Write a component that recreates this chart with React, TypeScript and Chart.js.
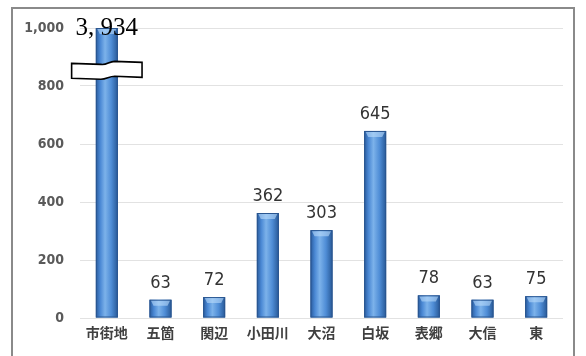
import React, { useEffect, useRef } from "react";
import { Chart, registerables } from "chart.js";

Chart.register(...registerables);

const categories = ["市街地", "五箇", "関辺", "小田川", "大沼", "白坂", "表郷", "大信", "東"];
const values = [3934, 63, 72, 362, 303, 645, 78, 63, 75];
const yTicks = [0, 200, 400, 600, 800, 1000];
const yMax = 1000;
const breakLow = 830;
const breakHigh = 878;

const framePlugin = {
  id: "frame",
  beforeDraw(chart: any) {
    const ctx = chart.ctx;
    ctx.save();
    ctx.fillStyle = "#ffffff";
    ctx.fillRect(0, 0, chart.width, chart.height);
    ctx.strokeStyle = "#8a8a8a";
    ctx.lineWidth = 2;
    ctx.strokeRect(12, 8, chart.width - 24, chart.height + 20);
    ctx.restore();
  },
};

const barDecorPlugin = {
  id: "barDecor",
  afterDatasetsDraw(chart: any) {
    const ctx = chart.ctx;
    const area = chart.chartArea;
    const yScale = chart.scales.y;
    const meta = chart.getDatasetMeta(0);
    ctx.save();
    meta.data.forEach((bar: any, i: number) => {
      const v = values[i];
      const top = Math.max(bar.y, area.top);
      const w = bar.width;
      const left = bar.x - w / 2;
      const bottom = bar.base;

      // cylinder-like shading
      const g = ctx.createLinearGradient(left, 0, left + w, 0);
      g.addColorStop(0, "#285a9c");
      g.addColorStop(0.2, "#4a88d4");
      g.addColorStop(0.42, "#7cb2ea");
      g.addColorStop(0.7, "#4f8dd6");
      g.addColorStop(1, "#275896");
      ctx.fillStyle = g;
      ctx.fillRect(left, top, w, bottom - top);
      ctx.strokeStyle = "#2a5690";
      ctx.lineWidth = 1;
      ctx.strokeRect(left + 0.5, top + 0.5, w - 1, bottom - top - 1);

      // top highlight bevel
      const h = Math.min(5, Math.abs(bottom - top) / 3);
      ctx.fillStyle = "rgba(185,218,250,0.6)";
      ctx.beginPath();
      ctx.moveTo(left + 1.5, top + 1);
      ctx.lineTo(left + w - 1.5, top + 1);
      ctx.lineTo(left + w - 4, top + 1 + h);
      ctx.lineTo(left + 4, top + 1 + h);
      ctx.closePath();
      ctx.fill();

      if (v > yMax) {
        // axis break symbol
        const yT = yScale.getPixelForValue(breakHigh);
        const yB = yScale.getPixelForValue(breakLow);
        const x0 = bar.x - w * 1.6;
        const x1 = bar.x + w * 1.6;
        const xm = bar.x;
        ctx.beginPath();
        ctx.moveTo(x0, yT);
        ctx.lineTo(xm - 6, yT + 1);
        ctx.bezierCurveTo(xm, yT + 2, xm + 2, yT - 2, xm + 8, yT - 2);
        ctx.lineTo(x1, yT - 1);
        ctx.lineTo(x1, yB);
        ctx.lineTo(xm + 8, yB - 1);
        ctx.bezierCurveTo(xm + 2, yB - 1, xm, yB + 2, xm - 6, yB + 2);
        ctx.lineTo(x0, yB + 1);
        ctx.closePath();
        ctx.fillStyle = "#ffffff";
        ctx.fill();
        ctx.strokeStyle = "#000000";
        ctx.lineWidth = 1.6;
        ctx.stroke();

        ctx.fillStyle = "#000000";
        ctx.font = "25px 'Liberation Serif', serif";
        ctx.textAlign = "center";
        ctx.textBaseline = "middle";
        ctx.fillText(v.toLocaleString("en-US").replace(",", ", "), bar.x, area.top);
      } else {
        ctx.fillStyle = "#333333";
        ctx.font = "18px 'Liberation Sans Narrow', 'DejaVu Sans Condensed', sans-serif";
        ctx.textAlign = "center";
        ctx.textBaseline = "alphabetic";
        ctx.fillText(String(v), bar.x, bar.y - 12);
      }
    });
    ctx.restore();
  },
};

export default function App() {
  const ref = useRef<HTMLCanvasElement | null>(null);

  useEffect(() => {
    document.body.style.margin = "0";
    const canvas = ref.current;
    if (!canvas) return;
    const chart = new Chart(canvas, {
      type: "bar",
      data: {
        labels: categories,
        datasets: [
          {
            data: values,
            backgroundColor: "#4a88d4",
            borderColor: "#2a5690",
            borderWidth: 1,
            barPercentage: 0.41,
            categoryPercentage: 1,
          },
        ],
      },
      options: {
        animation: false,
        responsive: false,
        devicePixelRatio: 1,
        layout: { padding: { left: 0, right: 23, top: 28, bottom: 0 } },
        plugins: {
          legend: { display: false },
          tooltip: { enabled: false },
        },
        scales: {
          x: {
            grid: { display: false, drawTicks: false },
            border: { display: false },
            ticks: {
              color: "#404040",
              padding: 6,
              font: { family: "'Noto Sans CJK JP', sans-serif", size: 14, weight: "bold" },
            },
            afterFit: (s: any) => {
              s.height = 38;
            },
          },
          y: {
            min: 0,
            max: yMax,
            afterBuildTicks: (s: any) => {
              s.ticks = yTicks.map((v) => ({ value: v }));
            },
            grid: { color: "#e2e2e2", drawTicks: false, lineWidth: 1 },
            border: { display: false },
            ticks: {
              color: "#5a5a5a",
              padding: 16,
              font: { family: "'Liberation Sans Narrow', 'DejaVu Sans Condensed', sans-serif", size: 14, weight: "bold" },
              callback: (v: any) => Number(v).toLocaleString("en-US"),
            },
            afterFit: (s: any) => {
              s.width = 80;
            },
          },
        },
      },
      plugins: [framePlugin, barDecorPlugin],
    });
    return () => chart.destroy();
  }, []);

  return <canvas ref={ref} width={586} height={356} style={{ display: "block" }} />;
}
